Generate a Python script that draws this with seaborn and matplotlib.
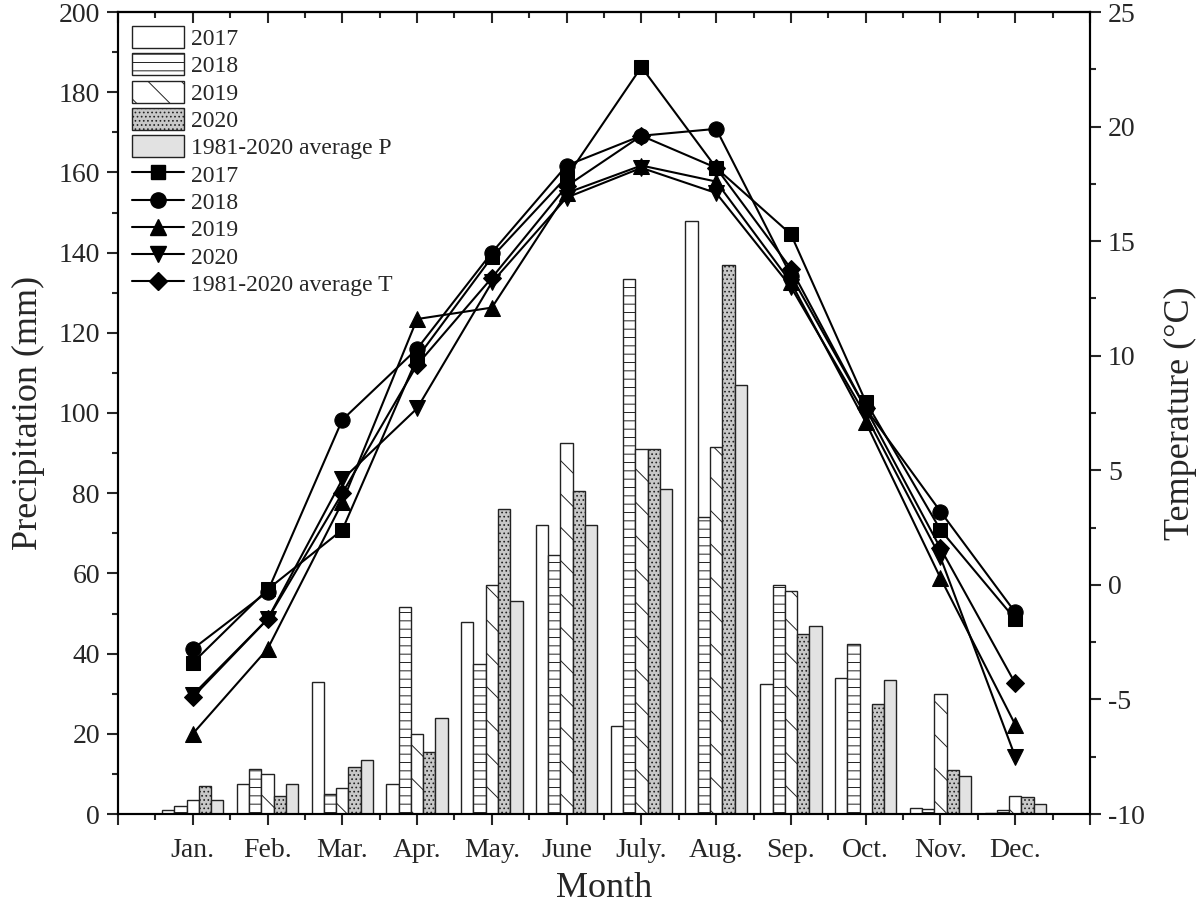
import numpy as np
import pandas as pd
import matplotlib
matplotlib.use('Agg')
import matplotlib.pyplot as plt
from matplotlib.patches import Patch
from matplotlib.lines import Line2D
from matplotlib.ticker import MultipleLocator, FixedLocator
import seaborn as sns

months = ['Jan.', 'Feb.', 'Mar.', 'Apr.', 'May.', 'June', 'July.', 'Aug.', 'Sep.', 'Oct.', 'Nov.', 'Dec.']
p_labels = ['2017', '2018', '2019', '2020', '1981-2020 average P']
t_labels = ['2017', '2018', '2019', '2020', '1981-2020 average T']

# precipitation (mm)
p_2017 = [1.0, 7.5, 33.0, 7.5, 48.0, 72.0, 22.0, 148.0, 32.5, 34.0, 1.5, 0.3]
p_2018 = [2.0, 11.2, 5.0, 51.5, 37.5, 64.5, 133.5, 74.0, 57.0, 42.5, 1.2, 1.0]
p_2019 = [3.5, 10.0, 6.5, 20.0, 57.0, 92.5, 91.0, 91.5, 55.5, 0.0, 30.0, 4.5]
p_2020 = [7.0, 4.5, 11.8, 15.5, 76.0, 80.5, 91.0, 137.0, 45.0, 27.5, 11.0, 4.2]
p_avg = [3.5, 7.5, 13.5, 24.0, 53.0, 72.0, 81.0, 107.0, 47.0, 33.5, 9.5, 2.5]

# temperature (degC)
t_2017 = [-3.4, -0.2, 2.4, 9.9, 14.3, 17.8, 22.6, 18.2, 15.3, 8.0, 2.4, -1.5]
t_2018 = [-2.8, -0.3, 7.2, 10.3, 14.5, 18.3, 19.6, 19.9, 13.5, 7.7, 3.2, -1.2]
t_2019 = [-6.5, -2.8, 3.6, 11.6, 12.1, 17.1, 18.3, 17.6, 13.2, 7.1, 0.3, -6.1]
t_2020 = [-4.8, -1.5, 4.6, 7.7, 13.2, 16.9, 18.2, 17.1, 13.0, 7.4, 1.2, -7.5]
t_avg = [-4.9, -1.5, 4.0, 9.6, 13.4, 17.4, 19.6, 18.2, 13.8, 7.7, 1.6, -4.3]

bar_faces = ['white', 'white', 'white', '#c8c8c8', '#e2e2e2']
bar_hatches = [None, '--', '\\', '....', None]
line_markers = ['s', 'o', '^', 'v', 'D']
marker_sizes = [10, 11, 11, 11, 9]

sns.set_theme(style='ticks')
plt.rcParams['font.family'] = ['Liberation Serif', 'DejaVu Serif']
plt.rcParams['axes.unicode_minus'] = False
plt.rcParams['hatch.linewidth'] = 0.7
plt.rcParams['axes.linewidth'] = 1.5

p_df = pd.DataFrame({
    'month': months * 5,
    'series': np.repeat(p_labels, 12),
    'P': np.concatenate([p_2017, p_2018, p_2019, p_2020, p_avg]),
})
t_df = pd.DataFrame({
    'x': np.tile(np.arange(12), 5),
    'series': np.repeat(t_labels, 12),
    'T': np.concatenate([t_2017, t_2018, t_2019, t_2020, t_avg]),
})

fig, ax = plt.subplots(figsize=(12, 9.09), dpi=100)
fig.subplots_adjust(left=118 / 1200, right=1090 / 1200, top=1 - 12 / 909, bottom=1 - 814 / 909)

sns.barplot(data=p_df, x='month', y='P', hue='series', order=months, hue_order=p_labels,
            palette=bar_faces, saturation=1, width=0.82, edgecolor='#222222', linewidth=1.0,
            errorbar=None, legend=False, ax=ax)
for cont, hatch in zip(ax.containers, bar_hatches):
    for bar in cont:
        bar.set_hatch(hatch)

ax2 = ax.twinx()
sns.lineplot(data=t_df, x='x', y='T', hue='series', style='series', hue_order=t_labels,
             style_order=t_labels, palette=['black'] * 5, markers=dict(zip(t_labels, line_markers)),
             dashes=False, linewidth=1.5, markersize=10, markeredgecolor='black',
             legend=False, sort=False, ax=ax2)
for ln, ms in zip(ax2.lines, marker_sizes):
    ln.set_markersize(ms)

ax.set_xlim(-1, 12)
ax.set_ylim(0, 200)
ax2.set_ylim(-10, 25)

ax.set_xticks(range(-1, 13))
ax.set_xticklabels([''] + months + [''])
ax.xaxis.set_minor_locator(FixedLocator(np.arange(-0.5, 12, 1)))
ax.yaxis.set_major_locator(MultipleLocator(20))
ax.yaxis.set_minor_locator(MultipleLocator(10))
ax2.yaxis.set_major_locator(MultipleLocator(5))
ax2.yaxis.set_minor_locator(MultipleLocator(2.5))

for a in (ax, ax2):
    a.tick_params(which='major', length=8, width=1.5, direction='out', labelsize=20, pad=5)
    a.tick_params(which='minor', length=4.5, width=1.5, direction='out')
    for sp in a.spines.values():
        sp.set_linewidth(1.5)
        sp.set_color('black')
ax.tick_params(axis='x', which='major', pad=9)

top = ax.secondary_xaxis('top')
top.set_xticks(range(-1, 13))
top.xaxis.set_minor_locator(FixedLocator(np.arange(-0.5, 12, 1)))
top.tick_params(which='major', length=8, width=1.5, direction='in', labeltop=False)
top.tick_params(which='minor', length=4.5, width=1.5, direction='in')
top.spines['top'].set_linewidth(1.5)

ax.set_xlabel('Month', fontsize=26, labelpad=7)
ax.set_ylabel('Precipitation (mm)', fontsize=26, labelpad=10)
ax2.set_ylabel('Temperature (°C)', fontsize=26, labelpad=14)

handles = []
for face, hatch in zip(bar_faces, bar_hatches):
    handles.append(Patch(facecolor=face, edgecolor='#222222', hatch=hatch, linewidth=1.0))
for mk, ms in zip(line_markers, marker_sizes):
    handles.append(Line2D([], [], color='black', linewidth=1.5, marker=mk, markersize=ms))
ax2.legend(handles, p_labels + t_labels, loc='upper left', bbox_to_anchor=(0, 1), frameon=False,
           fontsize=17, handlelength=2.2, handleheight=1.05, labelspacing=0.14, handletextpad=0.3,
           borderaxespad=0.6, borderpad=0)

fig.savefig('out.png', dpi=100)
